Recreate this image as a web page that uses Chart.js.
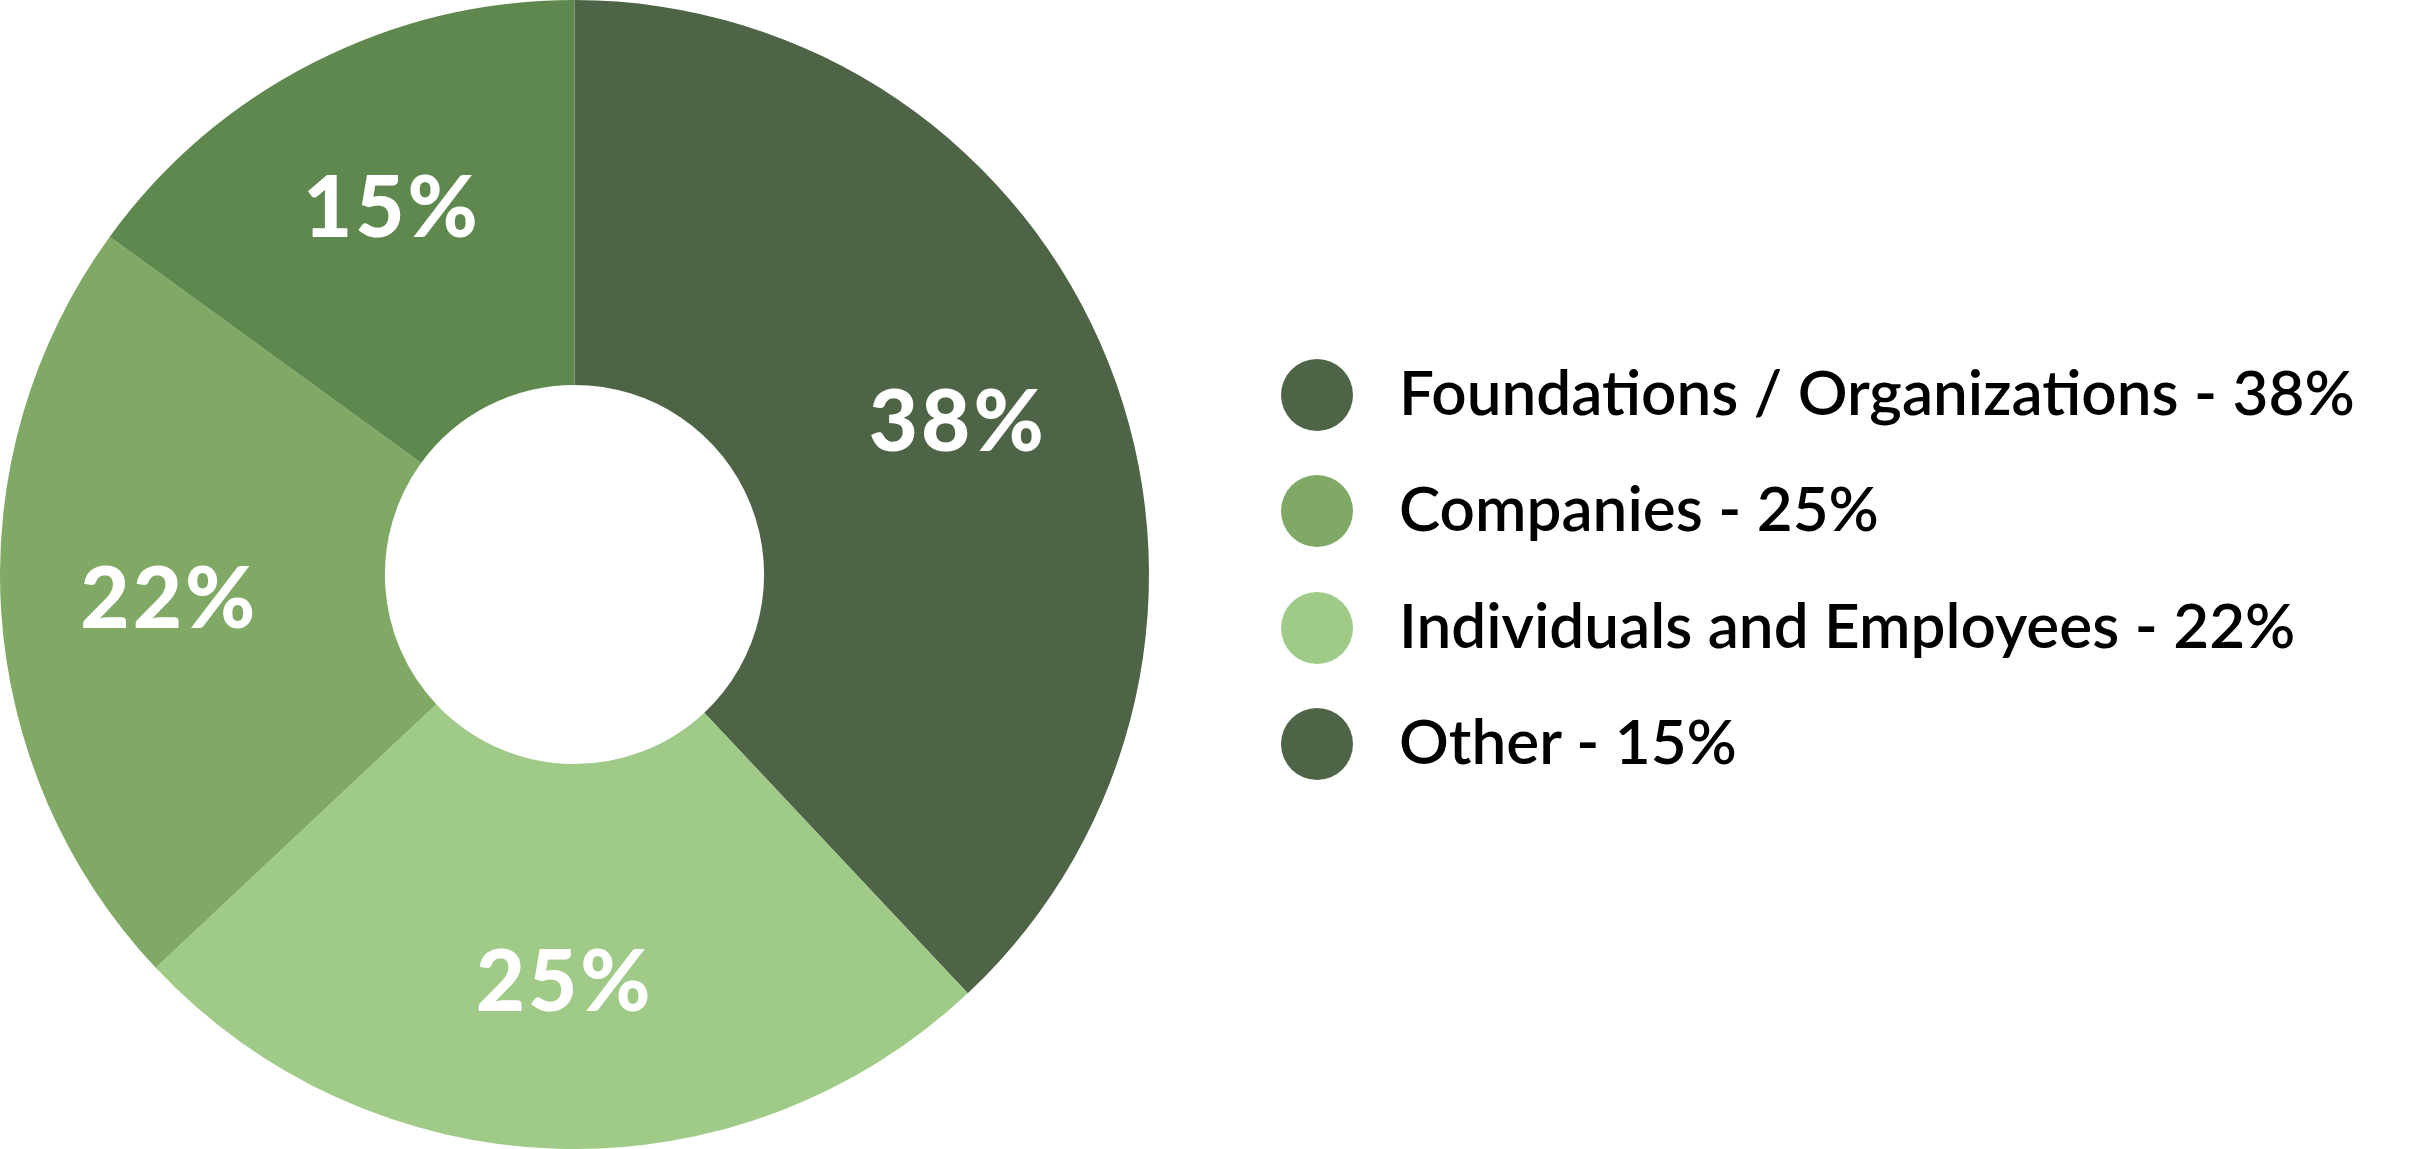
<!DOCTYPE html>
<html><head><meta charset="utf-8">
<script src="https://cdn.jsdelivr.net/npm/chart.js@4/dist/chart.umd.min.js"></script>
<style>
html,body{margin:0;padding:0;background:#fff;width:2430px;height:1149px;overflow:hidden}
#wrap{position:relative;width:2430px;height:1149px}
#c{position:absolute;left:0;top:0}
.item{position:absolute;left:1281px;height:72px;display:flex;align-items:center;white-space:nowrap}
.dot{width:72px;height:72px;border-radius:50%;flex:none}
.lbl{margin-left:46px;font-family:Lato,sans-serif;font-weight:600;font-size:62px;color:#000;line-height:72px;position:relative;top:-4px}
</style></head>
<body><div id="wrap"><canvas id="c" width="2430" height="1149"></canvas></div>
<script>
const categories = ['Foundations / Organizations', 'Companies', 'Individuals and Employees', 'Other'];
const shares = [38, 25, 22, 15];
const sliceColors = ['#4e6446', '#a0ca87', '#80a965', '#5e884e'];
const legendColors = ['#4e6446', '#80a965', '#a0ca87', '#4e6446'];
const legendCenters = [395, 511, 628, 744];

const wrap = document.getElementById('wrap');
categories.forEach((name, i) => {
  const it = document.createElement('div');
  it.className = 'item';
  it.style.top = (legendCenters[i] - 36) + 'px';
  const d = document.createElement('div');
  d.className = 'dot';
  d.style.background = legendColors[i];
  const t = document.createElement('span');
  t.className = 'lbl';
  t.textContent = name + ' - ' + shares[i] + '%';
  it.appendChild(d); it.appendChild(t);
  wrap.appendChild(it);
});

const sliceLabels = {
  id: 'sliceLabels',
  afterDatasetsDraw(chart) {
    const ctx = chart.ctx;
    const meta = chart.getDatasetMeta(0);
    ctx.save();
    ctx.fillStyle = '#ffffff';
    ctx.font = '900 85px Lato, sans-serif';
    ctx.letterSpacing = '3px';
    ctx.textAlign = 'center';
    ctx.textBaseline = 'middle';
    meta.data.forEach((arc, i) => {
      const p = arc.getProps(['x','y','startAngle','endAngle','innerRadius','outerRadius'], true);
      const a = (p.startAngle + p.endAngle) / 2;
      const r = p.innerRadius + 0.57 * (p.outerRadius - p.innerRadius);
      ctx.fillText(shares[i] + '%', p.x + Math.cos(a) * r + 3, p.y + Math.sin(a) * r);
    });
    ctx.restore();
  }
};

new Chart(document.getElementById('c'), {
  type: 'doughnut',
  data: {
    labels: categories,
    datasets: [{ data: shares, backgroundColor: sliceColors, borderWidth: 0, hoverOffset: 0 }]
  },
  options: {
    responsive: false,
    animation: false,
    cutout: '33%',
    layout: { padding: { left: 0, top: 0, bottom: 0, right: 2430 - 1149 } },
    plugins: { legend: { display: false }, tooltip: { enabled: false } }
  },
  plugins: [sliceLabels]
});
</script></body></html>
